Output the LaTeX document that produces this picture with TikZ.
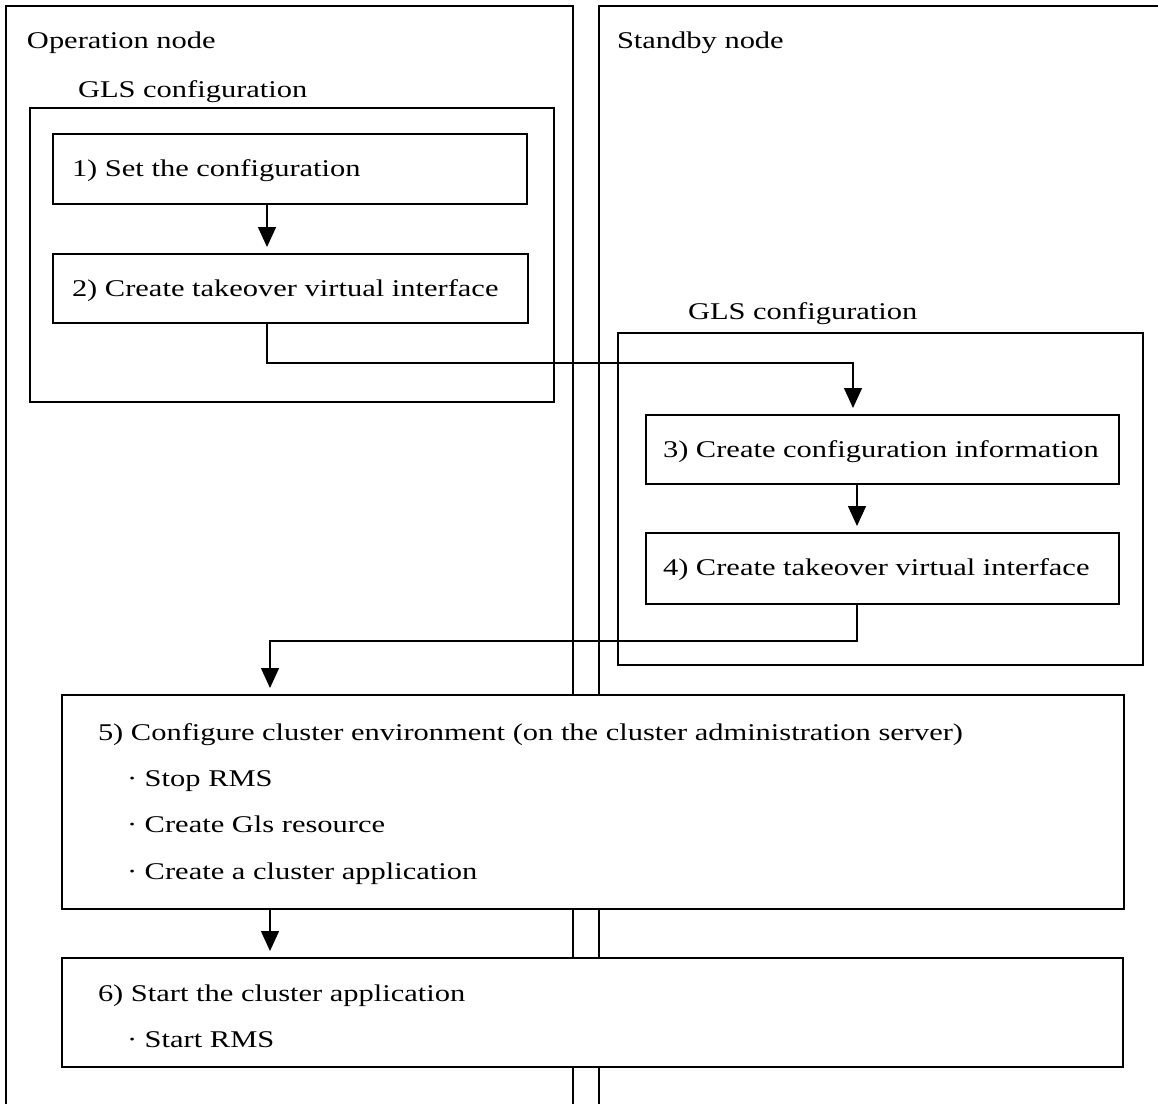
\documentclass[tikz,border=0pt]{standalone}
\usepackage{fontspec}
\setmainfont{Liberation Serif}[FakeStretch=1.27]
\usetikzlibrary{arrows.meta}
\begin{document}
\begin{tikzpicture}[x=1pt,y=-1pt,
  every node/.style={font=\fontsize{24}{28}\selectfont, inner sep=0pt, outer sep=0pt},
  lane/.style={draw, line width=1.4pt},
  box/.style={draw, line width=1.4pt, fill=white, anchor=north west, inner sep=0pt},
  lbl/.style={anchor=base west},
  conn/.style={line width=1.4pt, -{Triangle[width=18pt,length=20pt]}, shorten >=7pt}]
\useasboundingbox (0,0) rectangle (1158,1104);
\fill[white] (0,0) rectangle (1158,1104);
% lanes
\draw[lane] (6,1104) -- (6,6) -- (573,6) -- (573,1104);
\draw[lane] (599,1104) -- (599,6) -- (1158,6);
\node[lbl] (opl) at (27,48) {Operation node};
\node[lbl] (sbl) at (617,48) {Standby node};
% GLS groups
\node[box, minimum width=524pt, minimum height=294pt] (gl) at (30,108) {};
\node[lbl] (gll) at (78,97) {GLS configuration};
\node[box, minimum width=525pt, minimum height=332pt] (gr) at (618,333) {};
\node[lbl] (grl) at (688,319) {GLS configuration};
% steps
\node[box, minimum width=474pt, minimum height=70pt] (b1) at (53,134) {};
\node[lbl] (t1) at (72,176) {1) Set the configuration};
\node[box, minimum width=475pt, minimum height=69pt] (b2) at (53,254) {};
\node[lbl] (t2) at (72,296) {2) Create takeover virtual interface};
\node[box, minimum width=473pt, minimum height=69pt] (b3) at (646,415) {};
\node[lbl] (t3) at (663,457) {3) Create configuration information};
\node[box, minimum width=473pt, minimum height=71pt] (b4) at (646,533) {};
\node[lbl] (t4) at (663,575) {4) Create takeover virtual interface};
\node[box, minimum width=1062pt, minimum height=214pt] (b5) at (62,695) {};
\node[lbl] (t5a) at (98,740) {5) Configure cluster environment (on the cluster administration server)};
\node[lbl] (t5b) at (127,786) {· Stop RMS};
\node[lbl] (t5c) at (127,832) {· Create Gls resource};
\node[lbl] (t5d) at (127,879) {· Create a cluster application};
\node[box, minimum width=1061pt, minimum height=109pt] (b6) at (62,958) {};
\node[lbl] (t6a) at (98,1001) {6) Start the cluster application};
\node[lbl] (t6b) at (127,1047) {· Start RMS};
% connectors
\coordinate (k1) at (267,0);
\coordinate (k3) at (853,0);
\coordinate (k4) at (857,0);
\coordinate (k5) at (270,0);
\draw[conn] (b1.south -| k1) -- (b2.north -| k1);
\draw[conn] (b2.south -| k1) -- ++(0,40) -| (b3.north -| k3);
\draw[conn] (b3.south -| k4) -- (b4.north -| k4);
\draw[conn] (b4.south -| k4) -- ++(0,37) -| (b5.north -| k5);
\draw[conn] (b5.south -| k5) -- (b6.north -| k5);
\end{tikzpicture}
\end{document}
